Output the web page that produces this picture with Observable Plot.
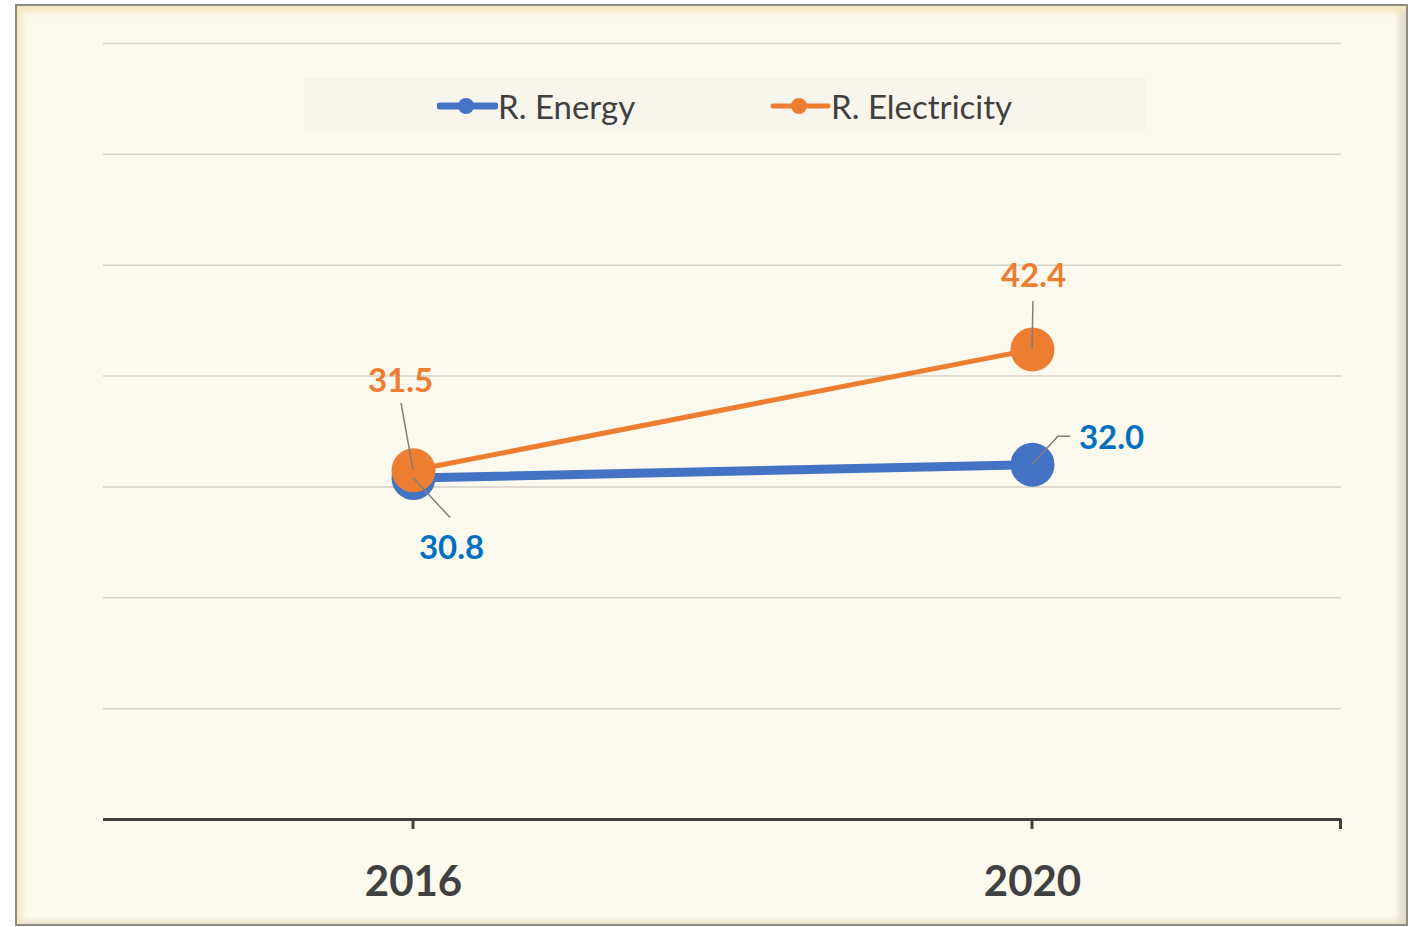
<!DOCTYPE html>
<html><head><meta charset="utf-8">
<script src="https://cdn.jsdelivr.net/npm/d3@7"></script>
<script src="https://cdn.jsdelivr.net/npm/@observablehq/plot@0.6"></script>
<style>
html,body{margin:0;padding:0;}
body{background:#ffffff;width:1412px;height:927px;overflow:hidden;position:relative;font-family:Lato,"Open Sans",sans-serif;}
#frame{position:absolute;left:15px;top:4px;width:1393px;height:922px;background:#FCFAEE;border:2px solid #8E8C84;box-sizing:border-box;box-shadow:inset 5px 6px 6px #F4E8BE,inset -7px -3px 6px #E3DDCA;}
#chart{position:absolute;left:0;top:0;}
#legend{position:absolute;left:304px;top:78px;width:841px;height:55px;background:#F8F5EC;}
.item{position:absolute;top:0;height:55px;display:flex;align-items:center;font-size:33px;color:#404040;white-space:nowrap;}
.item svg{display:block;}
</style>
</head><body>
<div id="frame"></div>
<div id="chart"></div>
<div id="legend"></div>
<script>
// ---- data ----
const years = ["2016", "2020"];
const energy = [30.8, 32.0];
const electricity = [31.5, 42.4];
const seriesNames = ["R. Energy", "R. Electricity"];
const yTicks = [10, 20, 30, 40, 50, 60, 70];

// ---- styles (not data) ----
const colors = {"R. Energy": "#4472C4", "R. Electricity": "#ED7D31"};
const labelColors = {"R. Energy": "#0070C0", "R. Electricity": "#ED7D31"};
const lineWidths = {"R. Energy": 9, "R. Electricity": 5};
const labelOffsets = {"R. Energy": [[38, 70], [79, -26]], "R. Electricity": [[-13, -89], [1, -73]]};
const leaderPaths = {
  "R. Energy": [[[0, 0], [37, 40]], [[0, 0], [26, -28], [38, -28]]],
  "R. Electricity": [[[0, 0], [-12, -67]], [[0, 0], [1, -48]]]
};

const seriesValues = {"R. Energy": energy, "R. Electricity": electricity};
const rows = [];
for (const s of seriesNames) {
  years.forEach((yr, i) => rows.push({series: s, year: yr, value: seriesValues[s][i], i}));
}
const bySeries = s => rows.filter(r => r.series === s);

const marks = [
  Plot.ruleY(yTicks, {stroke: "#D4D1C6", strokeWidth: 1.5}),
  Plot.ruleY([0], {stroke: "#404040", strokeWidth: 3}),
  Plot.axisX({tickSize: 0, tickPadding: 47, color: "#404040", fontSize: 42, fontWeight: "bold", fontFamily: "Lato, 'Open Sans', sans-serif", label: null}),
  // axis ticks (category centres + right end)
  (index, scales, values, dims) => {
    const g = d3.create("svg:g").attr("stroke", "#404040").attr("stroke-width", 3);
    const y0 = scales.y(0);
    const xs = years.map(yr => scales.x(yr)).concat([dims.width - dims.marginRight - 0.5]);
    for (const x of xs) {
      g.append("line").attr("x1", x).attr("x2", x).attr("y1", y0).attr("y2", y0 + 10);
    }
    return g.node();
  }
];
for (const s of seriesNames) {
  const d = bySeries(s);
  marks.push(Plot.line(d, {x: "year", y: "value", stroke: colors[s], strokeWidth: lineWidths[s]}));
  marks.push(Plot.dot(d, {x: "year", y: "value", r: 22, fill: colors[s]}));
}
// leader lines
marks.push((index, scales) => {
  const g = d3.create("svg:g").attr("fill", "none").attr("stroke", "#7F7F7F").attr("stroke-width", 1.5);
  for (const r of rows) {
    const px = scales.x(r.year), py = scales.y(r.value);
    const pts = leaderPaths[r.series][r.i].map(([dx, dy]) => [px + dx, py + dy]);
    g.append("path").attr("d", d3.line()(pts));
  }
  return g.node();
});
for (const s of seriesNames) {
  bySeries(s).forEach(r => {
    marks.push(Plot.text([r], {x: "year", y: "value", text: d => d.value.toFixed(1), dx: labelOffsets[s][r.i][0], dy: labelOffsets[s][r.i][1], fill: labelColors[s], fontSize: 33, fontWeight: "bold", fontFamily: "Lato, 'Open Sans', sans-serif"}));
  });
}

const chart = Plot.plot({
  width: 1412,
  height: 927,
  marginLeft: 103,
  marginRight: 71,
  marginTop: 43,
  marginBottom: 108,
  style: {background: "transparent", overflow: "visible"},
  x: {type: "point", domain: years, padding: 0.5, label: null},
  y: {domain: [0, 70], axis: null},
  marks
});
document.getElementById("chart").appendChild(chart);

// legend
const legend = document.getElementById("legend");
const legendPos = [133, 466];
seriesNames.forEach((s, i) => {
  const item = document.createElement("div");
  item.className = "item";
  item.style.left = legendPos[i] + "px";
  const w = lineWidths[s] > 6 ? 7 : 5;
  item.innerHTML = `<svg width="61" height="24" viewBox="0 0 61 24"><line x1="3" y1="12" x2="58" y2="12" stroke="${colors[s]}" stroke-width="${w}" stroke-linecap="round"/><circle cx="29" cy="12" r="8" fill="${colors[s]}"/></svg><span>${s}</span>`;
  legend.appendChild(item);
});
</script>
</body></html>
